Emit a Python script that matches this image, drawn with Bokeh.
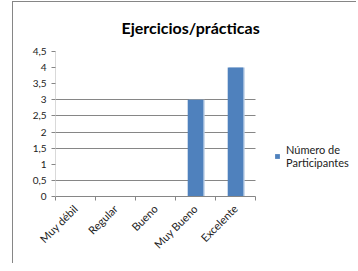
from math import pi
from bokeh.plotting import figure
from bokeh.models import (FixedTicker, Range1d, Legend, LegendItem)
from bokeh.transform import dodge
from bokeh.embed import file_html
from bokeh.resources import INLINE

# ---- data ----
categories = ["Muy débil", "Regular", "Bueno", "Muy Bueno", "Excelente"]
participantes = [0, 0, 0, 3, 4]
series_name = "Número de\nParticipantes"
title_text = "Ejercicios/prácticas"
y_ticks = [0, 0.5, 1, 1.5, 2, 2.5, 3, 3.5, 4, 4.5]
y_tick_labels = ["0", "0,5", "1", "1,5", "2", "2,5", "3", "3,5", "4", "4,5"]
grid_values = [0.5, 1.5, 2, 2.5, 3]

n = len(categories)
xs = [i + 0.5 for i in range(n)]
bounds = list(range(n + 1))

FONT = "Lato"
BAR = "#4F81BD"
GRAY = "#868686"

# frame spans the plot area plus the legend area; plot area limited by bounds
W = 344
LEFT = 42
PLOT_PX = 200
FRAME_PX = W - LEFT
p = figure(width=W, height=262, x_range=Range1d(0, n * FRAME_PX / PLOT_PX),
           y_range=Range1d(0, 4.5), output_backend="svg",
           toolbar_location=None, min_border_left=LEFT, min_border_right=0,
           min_border_top=48, min_border_bottom=68)
p.styles = {"border-left": "1px solid #868686",
            "border-top": "1px solid #868686",
            "margin-left": "12px", "margin-top": "1px"}
p.outline_line_color = None
p.xgrid.visible = False
p.ygrid.ticker = FixedTicker(ticks=grid_values)
p.ygrid.grid_line_color = GRAY
p.ygrid.cross_bounds = (0, n)

# title
p.title.text = title_text
p.title.align = "left"
p.title.vertical_align = "middle"
p.title.offset = 66
p.title.standoff = 28
p.title.text_font = FONT
p.title.text_font_style = "bold"
p.title.text_font_size = "16px"
p.title.text_color = "#000000"

# bars (light right edge + main bar)
src = dict(x=xs, top=participantes)
p.vbar(x=dodge("x", 0.035), top="top", width=0.39, source=src,
       fill_color="#B9CDE5", line_color=None)
bars = p.vbar(x="x", top="top", width=0.39, source=src,
              fill_color=BAR, line_color=None)

# x axis
xa = p.xaxis[0]
xa.bounds = (0, n)
xa.ticker = FixedTicker(ticks=xs, minor_ticks=bounds)
xa.major_label_overrides = {x: c for x, c in zip(xs, categories)}
xa.major_label_orientation = pi / 4
xa.major_tick_out = 0
xa.major_tick_in = 0
xa.minor_tick_out = 4
xa.minor_tick_in = 0
xa.minor_tick_line_color = GRAY
xa.axis_line_color = GRAY
xa.major_label_text_font = FONT
xa.major_label_text_font_size = "11px"
xa.major_label_text_color = "#222222"
xa.major_label_standoff = 6

# y axis
ya = p.yaxis[0]
ya.ticker = FixedTicker(ticks=y_ticks)
ya.major_label_overrides = {t: l for t, l in zip(y_ticks, y_tick_labels)}
ya.major_tick_out = 4
ya.major_tick_in = 0
ya.minor_tick_line_color = None
ya.major_tick_line_color = GRAY
ya.axis_line_color = "#D9D9D9"
ya.major_label_text_font = FONT
ya.major_label_text_font_size = "10px"
ya.major_label_text_color = "#222222"
ya.major_label_standoff = 5

legend = Legend(items=[LegendItem(label=series_name, renderers=[bars])],
                location=(219, 27), padding=0, margin=0, glyph_width=6,
                glyph_height=6, label_standoff=6, border_line_color=None,
                background_fill_alpha=0, label_text_font=FONT,
                label_text_font_size="11px", label_text_color="#222222")
p.add_layout(legend)

open("out.html", "w").write(file_html(p, INLINE))
